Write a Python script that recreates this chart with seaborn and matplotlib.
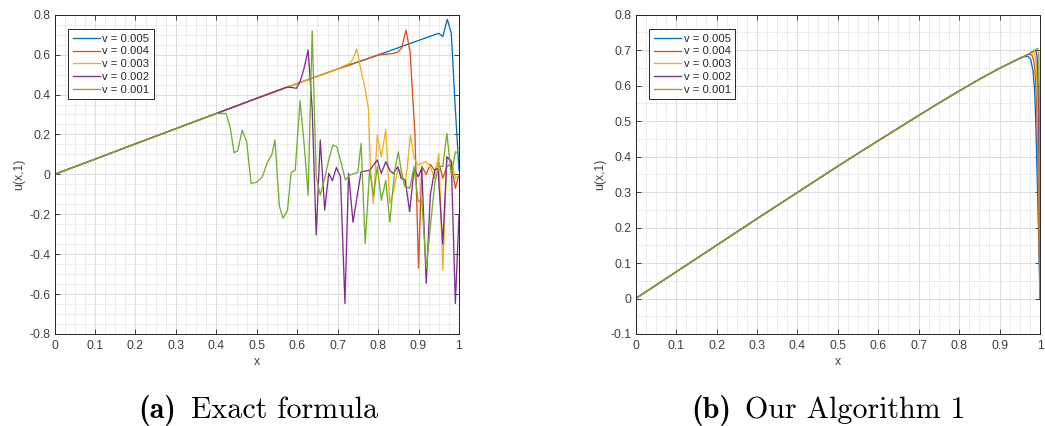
import matplotlib
matplotlib.use("Agg")
import matplotlib.pyplot as plt
import pandas as pd
import seaborn as sns
from matplotlib.ticker import MultipleLocator

labels = ["v = 0.005", "v = 0.004", "v = 0.003", "v = 0.002", "v = 0.001"]
colors = ["#0072BD", "#D95319", "#EDB120", "#7E2F8E", "#77AC30"]

# (a) exact formula: shared smooth profile before each series breaks down
x_base_a = [0.0, 0.1, 0.2, 0.3, 0.4, 0.5, 0.6, 0.7, 0.8, 0.9, 0.95]
u_base_a = [0.0, 0.076, 0.153, 0.229, 0.305, 0.381, 0.455, 0.528, 0.598, 0.671, 0.707]

x_tail_a_005 = [0.96, 0.971, 0.981, 0.99, 1.0]
u_tail_a_005 = [0.69, 0.777, 0.707, 0.36, 0.02]

x_tail_a_004 = [0.838, 0.848, 0.858, 0.869, 0.879, 0.891, 0.90, 0.908, 0.919, 0.929,
                0.94, 0.95, 0.96, 0.97, 0.981, 0.991, 1.0]
u_tail_a_004 = [0.606, 0.612, 0.631, 0.723, 0.615, 0.205, -0.47, 0.04, 0.0, 0.05,
                0.02, 0.06, -0.02, 0.04, 0.05, -0.07, 0.0]

x_tail_a_003 = [0.72, 0.73, 0.737, 0.747, 0.758, 0.768, 0.776, 0.781, 0.788, 0.798,
                0.808, 0.819, 0.829, 0.839, 0.849, 0.857, 0.867, 0.88, 0.889, 0.899,
                0.908, 0.919, 0.929, 0.94, 0.95, 0.96, 0.97, 0.981, 0.991, 1.0]
u_tail_a_003 = [0.548, 0.556, 0.575, 0.628, 0.52, 0.43, 0.33, 0.038, -0.145, 0.197,
                0.088, 0.225, -0.145, -0.079, 0.03, 0.005, -0.062, 0.197, 0.08, 0.047,
                0.055, 0.063, 0.038, -0.02, 0.105, -0.48, 0.088, 0.072, -0.02, -0.004]

x_tail_a_002 = [0.573, 0.585, 0.598, 0.607, 0.617, 0.627, 0.637, 0.647, 0.657, 0.668,
                0.678, 0.687, 0.697, 0.707, 0.718, 0.727, 0.738, 0.748, 0.758, 0.779,
                0.789, 0.798, 0.808, 0.819, 0.829, 0.837, 0.849, 0.857, 0.867, 0.878,
                0.889, 0.899, 0.908, 0.919, 0.929, 0.94, 0.948, 0.96, 0.97, 0.981,
                0.991, 1.0]
u_tail_a_002 = [0.436, 0.436, 0.431, 0.464, 0.531, 0.623, 0.33, -0.304, 0.172, -0.179,
                0.005, -0.032, 0.035, -0.012, -0.647, 0.005, -0.24, -0.112, 0.013, 0.02,
                0.047, 0.072, 0.005, 0.063, 0.02, 0.005, 0.038, -0.02, -0.028, -0.187,
                0.03, -0.012, 0.03, -0.546, -0.104, 0.022, 0.03, -0.35, 0.088, 0.063,
                -0.647, -0.204]

x_tail_a_001 = [0.424, 0.434, 0.444, 0.453, 0.464, 0.475, 0.486, 0.50, 0.514, 0.525,
                0.537, 0.545, 0.556, 0.565, 0.576, 0.585, 0.595, 0.607, 0.617, 0.627,
                0.637, 0.647, 0.657, 0.668, 0.678, 0.688, 0.698, 0.709, 0.719, 0.73,
                0.742, 0.75, 0.758, 0.768, 0.779, 0.789, 0.798, 0.808, 0.819, 0.829,
                0.841, 0.85, 0.857, 0.866, 0.878, 0.889, 0.899, 0.908, 0.919, 0.93,
                0.94, 0.95, 0.96, 0.97, 0.981, 0.991, 1.0]
u_tail_a_001 = [0.305, 0.239, 0.108, 0.118, 0.222, 0.164, -0.045, -0.04, -0.012, 0.055,
                0.097, 0.172, -0.16, -0.22, -0.18, 0.01, 0.02, 0.369, 0.155, -0.104,
                0.72, -0.012, -0.104, -0.02, 0.072, 0.147, 0.138, 0.055, -0.028, -0.004,
                0.005, 0.01, 0.155, -0.346, 0.02, -0.11, 0.04, -0.13, -0.03, -0.24,
                0.02, 0.113, 0.02, -0.06, -0.07, 0.04, -0.137, -0.13, -0.47, -0.246,
                -0.045, 0.04, 0.04, 0.205, -0.004, 0.113, 0.105]

# (b) Algorithm 1: smooth outer profile plus the boundary layer at x = 1
x_base_b = [0.0, 0.1, 0.2, 0.3, 0.4, 0.5, 0.6, 0.7, 0.75, 0.8, 0.85, 0.9, 0.95]
u_base_b = [0.0, 0.075, 0.15, 0.225, 0.299, 0.373, 0.445, 0.516, 0.551, 0.585,
            0.618, 0.649, 0.677]

x_tail_b_005 = [0.96, 0.97, 0.977, 0.983, 0.987, 0.99, 0.994, 0.997, 1.0]
u_tail_b_005 = [0.681, 0.683, 0.674, 0.64, 0.58, 0.48, 0.30, 0.15, 0.0]
x_tail_b_004 = [0.96, 0.97, 0.98, 0.985, 0.989, 0.992, 0.995, 0.998, 1.0]
u_tail_b_004 = [0.682, 0.688, 0.687, 0.668, 0.62, 0.53, 0.36, 0.15, 0.0]
x_tail_b_003 = [0.96, 0.97, 0.98, 0.986, 0.99, 0.993, 0.996, 0.998, 1.0]
u_tail_b_003 = [0.682, 0.688, 0.694, 0.691, 0.667, 0.60, 0.42, 0.22, 0.0]
x_tail_b_002 = [0.96, 0.97, 0.98, 0.985, 0.99, 0.993, 0.996, 0.998, 1.0]
u_tail_b_002 = [0.682, 0.688, 0.695, 0.698, 0.699, 0.68, 0.58, 0.38, 0.0]
x_tail_b_001 = [0.96, 0.97, 0.98, 0.99, 0.994, 0.997, 0.999, 1.0]
u_tail_b_001 = [0.682, 0.688, 0.695, 0.702, 0.705, 0.69, 0.45, 0.0]

tails_a = [(x_tail_a_005, u_tail_a_005), (x_tail_a_004, u_tail_a_004),
           (x_tail_a_003, u_tail_a_003), (x_tail_a_002, u_tail_a_002),
           (x_tail_a_001, u_tail_a_001)]
tails_b = [(x_tail_b_005, u_tail_b_005), (x_tail_b_004, u_tail_b_004),
           (x_tail_b_003, u_tail_b_003), (x_tail_b_002, u_tail_b_002),
           (x_tail_b_001, u_tail_b_001)]


def build_frame(x_base, u_base, tails):
    rows = []
    for lab, (xt, ut) in zip(labels, tails):
        xs = [x for x in x_base if x < xt[0]] + list(xt)
        us = [u for x, u in zip(x_base, u_base) if x < xt[0]] + list(ut)
        for x, u in zip(xs, us):
            rows.append({"series": lab, "x": x, "u": u})
    return pd.DataFrame(rows)


df_a = build_frame(x_base_a, u_base_a, tails_a)
df_b = build_frame(x_base_b, u_base_b, tails_b)

plt.rcParams["font.family"] = ["Liberation Sans", "DejaVu Sans"]

text_col = "#404040"
fs = 8.8
fig = plt.figure(figsize=(10.45, 4.26), dpi=100)
ax_a = fig.add_axes([54.5 / 1045, 1 - 334 / 426, 404.5 / 1045, 319.3 / 426])
ax_b = fig.add_axes([635.7 / 1045, 1 - 334 / 426, 404.3 / 1045, 319.3 / 426])


def style_axes(ax, ylim, ymajor, yminor):
    ax.set_xlim(0, 1)
    ax.set_ylim(*ylim)
    ax.xaxis.set_major_locator(MultipleLocator(0.1))
    ax.xaxis.set_minor_locator(MultipleLocator(0.025))
    ax.yaxis.set_major_locator(MultipleLocator(ymajor))
    ax.yaxis.set_minor_locator(MultipleLocator(yminor))
    ax.xaxis.set_major_formatter(plt.FuncFormatter(lambda v, p: f"{v:g}"))
    ax.yaxis.set_major_formatter(plt.FuncFormatter(lambda v, p: f"{round(v, 2):g}"))
    ax.set_axisbelow(True)
    ax.grid(which="major", color="#dcdcdc", lw=0.7)
    ax.grid(which="minor", color="#d6d6d6", lw=0.6, ls=(0, (1.5, 1.5)))
    ax.tick_params(which="major", direction="in", length=3.5, width=0.6,
                   top=True, right=True, labelsize=fs, colors="#262626",
                   labelcolor=text_col)
    ax.tick_params(axis="x", which="major", pad=4)
    ax.tick_params(axis="y", which="major", pad=3)
    ax.tick_params(which="minor", length=0)
    for sp in ax.spines.values():
        sp.set_color("#262626")
        sp.set_linewidth(0.7)
    ax.set_xlabel("x", fontsize=fs, color=text_col, labelpad=3)
    ax.set_ylabel("u(x,1)", fontsize=fs, color=text_col, labelpad=3)


for ax, df in ((ax_a, df_a), (ax_b, df_b)):
    sns.lineplot(data=df, x="x", y="u", hue="series", hue_order=labels,
                 palette=colors, units="series", estimator=None, sort=False,
                 lw=0.95, ax=ax)
    h, l = ax.get_legend_handles_labels()
    leg = ax.legend(h, l, loc="upper left", bbox_to_anchor=(0.0334, 0.955),
                    borderaxespad=0, fontsize=8.1, frameon=True, fancybox=False,
                    edgecolor="#262626", framealpha=1, handlelength=2.4,
                    handletextpad=0.24, labelspacing=0.24, borderpad=0.42)
    leg.get_frame().set_linewidth(0.7)
    for t in leg.get_texts():
        t.set_color("#262626")

style_axes(ax_a, (-0.8, 0.8), 0.2, 0.05)
style_axes(ax_b, (-0.1, 0.8), 0.1, 0.05)

# sub-figure captions in Computer Modern: bold tag followed by roman text
fig.canvas.draw()
renderer = fig.canvas.get_renderer()
cap_fs = 21.6
for tag, body, cx, gap in (("(a)", "Exact formula", 258.0, 15.0),
                           ("(b)", "Our Algorithm 1", 828.5, 13.0)):
    t1 = fig.text(0, 0, tag, fontfamily="cmb10", fontsize=cap_fs, va="baseline")
    t2 = fig.text(0, 0, body, fontfamily="cmr10", fontsize=cap_fs, va="baseline")
    w1 = t1.get_window_extent(renderer).width
    w2 = t2.get_window_extent(renderer).width
    x0 = cx - (w1 + gap + w2) / 2
    yb = 1 - 418 / 426
    t1.set_position((x0 / 1045, yb))
    t2.set_position(((x0 + w1 + gap) / 1045, yb))

fig.savefig("out.png", dpi=100)
